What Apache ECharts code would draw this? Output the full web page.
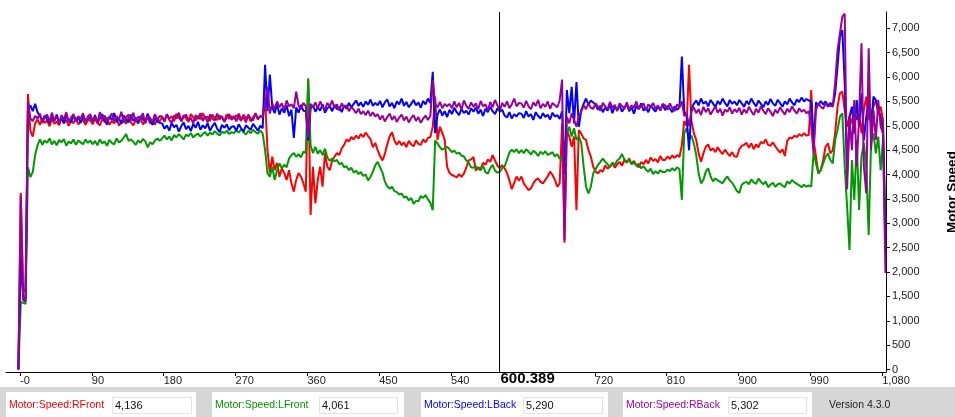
<!DOCTYPE html>
<html>
<head>
<meta charset="utf-8">
<script src="https://cdn.jsdelivr.net/npm/echarts@6/dist/echarts.min.js"></script>
<style>
  html, body { margin: 0; padding: 0; background: #ffffff; }
  #chart { width: 955px; height: 417px; }
</style>
</head>
<body>
<div id="chart"></div>
<script>
// Motor speed log: one sample every 3 s, starting at t = -2 s.
// Each row below covers 90 s (30 samples).
const sampleStart = -2;
const sampleStep = 3;

const rFront = [
  0, 3620, 1650, 1600, 5650, 4900, 4780, 5050, 5130, 5020, 5140, 5060, 5110, 4990, 5150, 5040, 5090, 5010, 5160, 5060, 5120, 5000, 5100, 5050, 5170, 5030, 5080, 5130, 5020, 5110,
  5120, 5030, 5150, 5060, 5010, 5140, 5080, 5170, 5020, 5100, 5050, 5160, 5000, 5090, 5130, 5040, 5180, 5070, 5010, 5120, 5060, 5150, 5030, 5100, 5170, 5050, 5110, 5020, 5140, 5090,
  5180, 5110, 5230, 5140, 5200, 5090, 5250, 5160, 5120, 5220, 5150, 5080, 5240, 5170, 5110, 5200, 5130, 5260, 5150, 5190, 5100, 5230, 5160, 5120, 5210, 5170, 5090, 5240, 5140, 5200,
  5140, 5220, 5160, 5100, 5230, 5150, 5200, 5090, 5180, 5240, 5130, 5200, 5190, 5570, 4500, 4030, 4365, 4090, 4240, 3955, 4130, 4030, 3890, 4090, 3820, 3650, 3890, 4030, 3955, 3820,
  3650, 5940, 3170, 4160, 3410, 3890, 4160, 3750, 4440, 4160, 4090, 4290, 4365, 4440, 4400, 4540, 4610, 4720, 4680, 4770, 4720, 4800, 4740, 4830, 4770, 4860, 4790, 4730, 4560, 4650,
  4500, 4380, 4290, 4420, 4620, 4780, 4870, 4700, 4610, 4690, 4600, 4660, 4560, 4690, 4620, 4580, 4700, 4630, 4610, 4720, 4660, 4750, 4770, 4980, 5600, 4710, 4980, 4850, 4710, 4160,
  4030, 3990, 3970, 3940, 4010, 3950, 4020, 4140, 4290, 4310, 4360, 4080, 4150, 4110, 4240, 4200, 4310, 4260, 4400, 4290, 4180, 4136, 4190, 4130, 4030, 3880, 3700, 3830, 3960, 3870,
  3960, 3820, 3750, 3680, 3720, 3820, 3890, 3920, 3850, 3820, 3890, 3960, 4060, 3990, 3890, 3750, 3820, 5050, 2600, 4910, 4780, 4570, 4780, 3270, 4910, 4840, 4740, 4710, 4500, 4370,
  4160, 4060, 4025, 4090, 4060, 4190, 4120, 4170, 4230, 4140, 4210, 4260, 4180, 4300, 4240, 4330, 4220, 4280, 4190, 4150, 4260, 4210, 4300, 4230, 4350, 4280, 4320, 4250, 4380, 4300,
  4300, 4370, 4320, 4390, 4340, 4400, 4360, 4600, 5100, 5000, 6250, 5100, 4850, 4710, 4435, 4265, 4435, 4570, 4620, 4490, 4540, 4460, 4560, 4480, 4420, 4510, 4440, 4380, 4460, 4370,
  4366, 4520, 4590, 4610, 4650, 4550, 4640, 4520, 4620, 4560, 4670, 4640, 4720, 4610, 4590, 4660, 4580, 4510, 4450, 4520, 4380, 4690, 4760, 4740, 4800, 4770, 4830, 4790, 4850, 4800,
  4810, 5735, 4708, 4366, 4025, 4090, 4298, 4571, 4640, 4436, 4500, 4846, 5392, 5667, 5700, 5324, 4982, 5187, 5050, 5324, 5119, 5256, 4846, 5324, 5600, 5119, 5256, 5392, 5529, 5256,
  5392, 5119, 2750
];

const lFront = [
  0, 1380, 1370, 1350, 4150, 3950, 4050, 4400, 4600, 4720, 4610, 4700, 4650, 4740, 4620, 4690, 4600, 4710, 4660, 4730, 4590, 4680, 4640, 4720, 4610, 4700, 4660, 4620, 4720, 4650,
  4700, 4620, 4690, 4600, 4720, 4640, 4680, 4590, 4710, 4650, 4620, 4740, 4660, 4690, 4760, 4830, 4690, 4720, 4670, 4610, 4700, 4650, 4730, 4680, 4560, 4660, 4620, 4700, 4740, 4690,
  4740, 4800, 4720, 4780, 4700, 4810, 4760, 4830, 4780, 4720, 4820, 4790, 4850, 4760, 4810, 4840, 4780, 4830, 4870, 4800, 4860, 4820, 4890, 4840, 4800, 4880, 4850, 4900, 4830, 4870,
  4850, 4910, 4860, 4930, 4870, 4820, 4900, 4850, 4920, 4870, 4840, 4900, 4845, 4500, 4030, 3955, 4160, 3890, 4090, 4230, 4130, 4200, 4150, 4330, 4400, 4440, 4365, 4420, 4350, 4470,
  4440, 5975, 4600, 4440, 4570, 4430, 4500, 4400, 4530, 4350, 4280, 4330, 4270, 4300, 4210, 4240, 4150, 4170, 4090, 4140, 4040, 4080, 4010, 4050, 3970, 4000, 3880, 3950, 4060, 4190,
  4260, 4150, 4040, 3860, 3760, 3710, 3750, 3660, 3640, 3590, 3610, 3530, 3550, 3470, 3520, 3400, 3460, 3450, 3560, 3520, 3580, 3490, 3420, 3270, 4700, 4640, 4560, 4510, 4540, 4570,
  4520, 4460, 4490, 4430, 4450, 4390, 4370, 4290, 4240, 4150, 4140, 4170, 4110, 4090, 4180, 4050, 4020, 4130, 4200, 4080, 4040, 4061, 4130, 4170, 4300, 4450, 4510, 4460, 4520, 4440,
  4500, 4440, 4520, 4470, 4410, 4490, 4450, 4380, 4470, 4420, 4480, 4400, 4430, 4460, 4370, 4420, 4330, 4300, 4230, 4845, 4980, 4780, 4950, 4710, 4780, 4640, 4160, 3750, 3615, 3750,
  4025, 4110, 4200, 4260, 4330, 4260, 4210, 4150, 4240, 4200, 4290, 4330, 4420, 4310, 4260, 4300, 4210, 4250, 4180, 4220, 4130, 4170, 4100, 4060, 4120, 4010, 4070, 4020, 4090, 4050,
  4050, 4100, 4070, 4130, 4080, 4150, 4110, 3480, 4850, 4950, 4710, 4800, 4640, 4400, 4025, 3820, 3890, 4060, 4130, 3960, 3860, 3920, 3880, 3850, 3820, 3900, 3960, 3880, 3830, 3750,
  3660, 3620, 3790, 3830, 3850, 3800, 3900, 3840, 3810, 3920, 3850, 3800, 3860, 3740, 3790, 3830, 3750, 3800, 3820, 3770, 3740, 3860, 3810, 3890, 3840, 3810, 3780, 3740, 3790, 3750,
  3780, 3750, 4450, 4230, 4025, 4090, 4230, 4366, 4436, 4298, 4230, 4708, 4914, 5187, 5256, 4161, 3340, 2452, 4298, 3478, 4708, 3272, 4366, 4640, 4161, 2760, 4640, 4846, 4436, 4780,
  4090, 4708, 3050
];

const lBack = [
  0, 2300, 1480, 1450, 5300, 5420, 5300, 5450, 5280, 5200, 5100, 5210, 5130, 5060, 5190, 5100, 5230, 5080, 5160, 5050, 5200, 5120, 5070, 5210, 5100, 5170, 5060, 5220, 5110, 5140,
  5180, 5090, 5220, 5060, 5150, 5240, 5100, 5030, 5190, 5120, 5260, 5080, 5160, 5040, 5210, 5130, 5070, 5230, 5100, 5170, 5050, 5200, 5140, 5080, 5250, 5110, 5020, 5160, 5090, 5060,
  5050, 4940, 5010, 4900, 5060, 4970, 5020, 4880, 4990, 5070, 4930, 5000, 4890, 5040, 4960, 5080, 4920, 5010, 4950, 5050, 4900, 4990, 5060, 4940, 4870, 5020, 4960, 5030, 4910, 4980,
  4990, 4900, 5030, 4950, 4880, 5010, 4960, 4920, 5040, 4970, 4900, 5000, 4950, 6250, 5300, 6050, 5380, 5260, 5440, 5230, 5360, 5270, 5420, 5200, 5330, 4750, 5380, 5270, 5430, 5310,
  5300, 4700, 5350, 5420, 5290, 5380, 5310, 5440, 5270, 5360, 5400, 5300, 5430, 5340, 5390, 5280, 5420, 5350, 5470, 5380, 5450, 5520, 5410, 5480, 5390, 5500, 5430, 5540, 5410, 5470,
  5420, 5510, 5380, 5480, 5540, 5400, 5470, 5360, 5500, 5440, 5560, 5410, 5490, 5380, 5450, 5530, 5420, 5480, 5370, 5510, 5440, 5560, 5470, 6110, 4850, 5230, 5340, 5210, 5300, 5180,
  5330, 5240, 5370, 5280, 5220, 5350, 5260, 5310, 5230, 5360, 5290, 5380, 5250, 5330, 5200, 5350, 5280, 5390, 5300, 5240, 5360, 5290, 5330, 5210, 5170, 5280, 5150, 5240, 5190, 5260,
  5250, 5160, 5300, 5190, 5240, 5120, 5280, 5200, 5150, 5260, 5180, 5230, 5130, 5270, 5190, 5220, 5140, 5300, 4000, 5734, 5260, 5800, 5050, 5900, 4980, 5320, 5450, 5560, 5430, 5520,
  5480, 5430, 5330, 5410, 5280, 5370, 5310, 5440, 5260, 5390, 5330, 5420, 5290, 5360, 5450, 5300, 5380, 5250, 5410, 5340, 5460, 5310, 5370, 5280, 5420, 5350, 5290, 5400, 5320, 5430,
  5320, 5410, 5350, 5280, 5400, 5330, 5380, 6420, 5300, 5200, 4500, 5350, 5450, 5520, 5420, 5560, 5450, 5500, 5400, 5530, 5460, 5380, 5510, 5440, 5560, 5470, 5400, 5530, 5450, 5500,
  5420, 5530, 5460, 5390, 5510, 5440, 5560, 5470, 5400, 5520, 5450, 5380, 5500, 5430, 5550, 5460, 5410, 5530, 5470, 5390, 5500, 5440, 5560, 5480, 5420, 5540, 5490, 5580, 5500, 5550,
  5520, 5500, 4600, 5480, 5420, 5510, 5440, 5500, 5410, 5470, 5400, 5667, 6213, 6828, 6966, 5872, 4025, 5187, 5392, 4846, 5529, 4982, 5667, 4708, 5187, 5529, 4982, 5600, 5529, 5324,
  5187, 4846, 2450
];

const rBack = [
  0, 3580, 1420, 1400, 5500, 5150, 5100, 5200, 5150, 5250, 5060, 5180, 5230, 5080, 5270, 5110, 5190, 5040, 5220, 5130, 5280, 5070, 5170, 5240, 5090, 5200, 5140, 5260, 5060, 5190,
  5240, 5100, 5190, 5060, 5280, 5140, 5210, 5070, 5170, 5250, 5090, 5200, 5130, 5290, 5060, 5180, 5230, 5110, 5270, 5080, 5190, 5140, 5260, 5050, 5210, 5160, 5080, 5240, 5120, 5200,
  5190, 5080, 5240, 5120, 5060, 5210, 5150, 5270, 5090, 5180, 5230, 5110, 5160, 5050, 5220, 5140, 5260, 5100, 5190, 5070, 5230, 5150, 5110, 5250, 5130, 5200, 5080, 5170, 5240, 5120,
  5200, 5090, 5250, 5130, 5180, 5070, 5230, 5140, 5110, 5260, 5150, 5190, 5180, 5450, 5800, 5250, 5450, 5350, 5500, 5380, 5460, 5330, 5520, 5400, 5440, 5360, 5700, 5410, 5340, 5470,
  5400, 4750, 5450, 5380, 5480, 5350, 5500, 5400, 5330, 5470, 5390, 5520, 5360, 5440, 5310, 5460, 5380, 5420, 5300, 5390, 5330, 5260, 5350, 5240, 5300, 5220, 5310, 5200, 5280, 5190,
  5240, 5130, 5210, 5090, 5180, 5250, 5120, 5200, 5080, 5170, 5230, 5110, 5190, 5070, 5160, 5220, 5100, 5180, 5060, 5150, 5210, 5120, 5200, 5940, 5450, 5380, 5490, 5360, 5450, 5400,
  5450, 5360, 5500, 5380, 5470, 5330, 5520, 5410, 5350, 5480, 5390, 5460, 5340, 5510, 5400, 5440, 5310, 5490, 5380, 5530, 5420, 5302, 5470, 5390, 5500, 5360, 5440, 5560, 5400, 5470,
  5460, 5370, 5510, 5400, 5340, 5480, 5410, 5530, 5360, 5450, 5390, 5500, 5350, 5470, 5420, 5380, 5520, 5950, 2650, 5185, 5050, 5256, 5120, 4980, 5190, 5290, 5420, 5340, 5460, 5370,
  5350, 5460, 5390, 5310, 5470, 5400, 5340, 5490, 5370, 5430, 5300, 5460, 5410, 5350, 5480, 5330, 5420, 5370, 5500, 5340, 5410, 5460, 5320, 5440, 5380, 5470, 5350, 5420, 5310, 5450,
  5420, 5330, 5460, 5360, 5300, 5440, 5380, 5500, 5200, 5250, 5000, 5300, 5380, 5260, 5340, 5220, 5390, 5280, 5360, 5230, 5320, 5400, 5270, 5350, 5210, 5330, 5290, 5380, 5250, 5340,
  5280, 5370, 5230, 5340, 5260, 5390, 5300, 5220, 5350, 5270, 5400, 5310, 5240, 5360, 5290, 5200, 5330, 5260, 5380, 5300, 5230, 5350, 5280, 5400, 5310, 5250, 5360, 5290, 5330, 5260,
  5300, 5000, 4436, 5324, 5460, 5392, 5350, 5460, 5392, 5420, 5392, 5872, 6555, 6897, 7240, 7300, 3700, 5200, 4500, 5529, 4161, 5187, 6692, 4161, 3615, 6590, 4500, 5324, 4708, 5529,
  4982, 4846, 1980
];

const seriesNames = ['Motor:Speed:RFront', 'Motor:Speed:LFront', 'Motor:Speed:LBack', 'Motor:Speed:RBack'];
const cursorTime = 600.389;
const cursorValues = ['4,136', '4,061', '5,290', '5,302'];

const xTickValues = [0, 90, 180, 270, 360, 450, 540, 720, 810, 900, 990, 1080];
const xTickLabels = ['-0', '90', '180', '270', '360', '450', '540', '720', '810', '900', '990', '1,080'];
const yTickValues = [0, 500, 1000, 1500, 2000, 2500, 3000, 3500, 4000, 4500, 5000, 5500, 6000, 6500, 7000];
const yTickLabels = ['0', '500', '1,000', '1,500', '2,000', '2,500', '3,000', '3,500', '4,000', '4,500', '5,000', '5,500', '6,000', '6,500', '7,000'];
const yAxisTitle = 'Motor Speed';
const versionText = 'Version 4.3.0';

// ---- styling ----
const lineColors = ['#ff0000', '#009900', '#0000ff', '#990099'];
const labelColors = ['#ff0000', '#009a00', '#0000ff', '#a000a0'];
const FONT = '"Liberation Sans", Arial, sans-serif';

const toPoints = vals => vals.map((v, i) => [sampleStart + i * sampleStep, v]);

const chart = echarts.init(document.getElementById('chart'), null, { renderer: 'canvas' });

chart.setOption({
  animation: false,
  backgroundColor: '#ffffff',
  grid: { left: 6, right: 69, top: 12, bottom: 45, containLabel: false, outerBoundsMode: 'none' },
  xAxis: {
    type: 'value',
    min: -17.5,
    max: 1084.7,
    axisLine: { show: true, onZero: false, lineStyle: { color: '#000', width: 1 } },
    axisTick: { show: true, customValues: xTickValues, length: 4, lineStyle: { color: '#000' } },
    axisLabel: {
      customValues: xTickValues,
      formatter: v => xTickLabels[xTickValues.indexOf(v)],
      align: 'left',
      margin: 3,
      fontSize: 11,
      fontFamily: FONT,
      color: '#222'
    },
    splitLine: { show: false }
  },
  yAxis: {
    type: 'value',
    position: 'right',
    min: -51,
    max: 7335,
    name: yAxisTitle,
    nameLocation: 'middle',
    nameRotate: 90,
    nameGap: 59,
    nameTextStyle: { fontSize: 13.5, fontWeight: 'bold', fontFamily: FONT, color: '#000' },
    axisLine: { show: true, onZero: false, lineStyle: { color: '#000', width: 1 } },
    axisTick: { show: true, customValues: yTickValues, length: 4, lineStyle: { color: '#000' } },
    axisLabel: {
      customValues: yTickValues,
      formatter: v => yTickLabels[yTickValues.indexOf(v)],
      margin: 6,
      align: 'left',
      padding: [0, 0, 6, 0],
      fontSize: 11,
      fontFamily: FONT,
      color: '#222'
    },
    splitLine: { show: false }
  },
  series: [rFront, lFront, lBack, rBack].map((vals, k) => ({
    name: seriesNames[k],
    type: 'line',
    data: toPoints(vals),
    showSymbol: false,
    symbol: 'none',
    sampling: null,
    lineStyle: { color: lineColors[k], width: 2 },
    itemStyle: { color: lineColors[k] },
    emphasis: { disabled: true }
  }))
});

// Cursor line and time readout, placed through the axis scale
const cursorX = Math.round(chart.convertToPixel({ xAxisIndex: 0 }, cursorTime)) + 0.5;
const plotTop = chart.convertToPixel({ yAxisIndex: 0 }, 7335);
const plotBottom = chart.convertToPixel({ yAxisIndex: 0 }, -51);

// Readout panel along the bottom
const panelBoxes = [[6, 196], [212, 404], [421, 608], [623, 812]];
const valueFields = [[112, 191], [319, 397], [523, 602], [728, 806]];
const panelY = 387, boxY = 392, fieldY = 397, textY = 405.5;

const graphics = [
  {
    type: 'line', silent: true, z: 50,
    shape: { x1: cursorX, y1: plotTop, x2: cursorX, y2: plotBottom + 1 },
    style: { stroke: '#000', lineWidth: 1 }
  },
  {
    type: 'text', silent: true, z: 50,
    x: cursorX + 1, y: plotBottom + 7,
    style: { text: cursorTime.toFixed(3), font: 'bold 15px ' + FONT, fill: '#000', textAlign: 'left', textVerticalAlign: 'middle' }
  },
  {
    type: 'rect', silent: true, z: 40,
    shape: { x: 0, y: panelY, width: 955, height: 417 - panelY },
    style: { fill: '#d6d6d6' }
  }
];

panelBoxes.forEach((b, k) => {
  graphics.push({
    type: 'rect', silent: true, z: 41,
    shape: { x: b[0], y: boxY, width: b[1] - b[0], height: 417 - boxY },
    style: { fill: '#ffffff' }
  });
  const f = valueFields[k];
  graphics.push({
    type: 'rect', silent: true, z: 42,
    shape: { x: f[0] + 0.5, y: fieldY + 0.5, width: f[1] - f[0], height: 16 },
    style: { fill: '#ffffff', stroke: '#e2e2e2', lineWidth: 1 }
  });
  graphics.push({
    type: 'text', silent: true, z: 43,
    x: b[0] + 3, y: textY,
    style: { text: seriesNames[k], font: '10.5px ' + FONT, fill: labelColors[k], textAlign: 'left', textVerticalAlign: 'middle' }
  });
  graphics.push({
    type: 'text', silent: true, z: 43,
    x: f[0] + 3, y: textY,
    style: { text: cursorValues[k], font: '11px ' + FONT, fill: '#111', textAlign: 'left', textVerticalAlign: 'middle' }
  });
});

graphics.push({
  type: 'text', silent: true, z: 43,
  x: 829, y: textY,
  style: { text: versionText, font: '10.5px ' + FONT, fill: '#222', textAlign: 'left', textVerticalAlign: 'middle' }
});

chart.setOption({ graphic: graphics });
</script>
</body>
</html>
